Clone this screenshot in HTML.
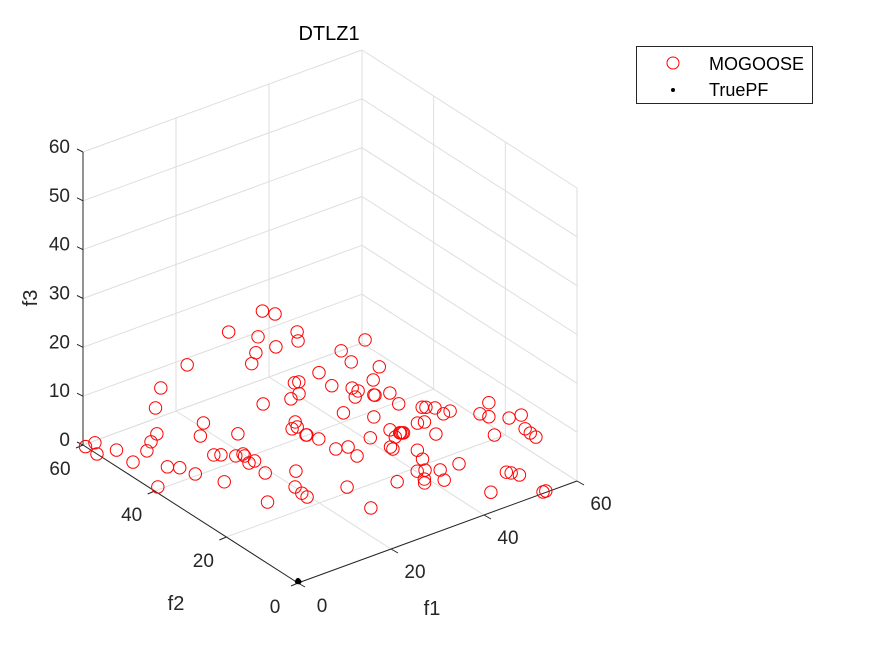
<!DOCTYPE html>
<html><head><meta charset="utf-8"><style>
body{margin:0;background:#fff;}
svg{display:block;font-family:"Liberation Sans",Arial,sans-serif;}
</style></head><body>
<svg id="chart" width="875" height="656" viewBox="0 0 875 656">
<rect width="875" height="656" fill="#fff"/>
<g id="grid"></g>
<g id="axes"></g>
<g id="marks"></g>
<text x="329" y="40" font-size="20" text-anchor="middle" fill="#000">DTLZ1</text>
<text x="432" y="615" font-size="20" text-anchor="middle" fill="#262626">f1</text>
<text x="176" y="610" font-size="20" text-anchor="middle" fill="#262626">f2</text>
<text x="0" y="0" font-size="20" text-anchor="middle" fill="#262626" transform="translate(37,298) rotate(-90)">f3</text>
<g>
<rect x="636.5" y="46.5" width="176" height="57" fill="#fff" stroke="#262626" stroke-width="1"/>
<circle cx="673" cy="63" r="6" fill="none" stroke="#f00" stroke-width="1"/>
<text x="709" y="70" font-size="18" fill="#000">MOGOOSE</text>
<circle cx="673" cy="90" r="2" fill="#000"/>
<text x="709" y="96" font-size="18" fill="#000">TruePF</text>
</g>
</svg>
<script>
const f1Vals=[36.5,37.6,27.4,30.4,36.8,35.0,30.7,26.7,23.8,14.7,31.1,44.4,38.8,37.8,40.6,45.3,14.5,9.5,25.1,33.9,34.7,32.2,30.0,38.4,40.7,40.9,39.2,42.2,42.3,44.8,43.7,34.2,37.5,46.2,46.7,47.8,47.7,49.2,52.7,56.3,53.3,55.8,58.1,21.2,18.0,23.6,12.5,10.0,7.5,2.1,0,0,3.5,3.2,6.9,8.4,9.2,15.8,16.8,18.6,20.0,19.8,18.9,20.1,19.0,11.5,1.3,34.0,32.1,33.2,32.7,32.8,33.6,23.6,20.1,19.7,19.6,13.1,55.7,55.5,55.4,58.5,50.5,51.7,50.7,45.3,46.0,46.5,44.5,40.9,33.8,35.9,35.2,41.7,41.6,44.7,43.5,40.2,41.5,39.5,38.7,43.6,42.0,47.5,35.2,27.2,26.0,45.8,52.2,52.7,53.4,53.0,53.6,46.1,46.3];
const f2Vals=[57.3,55.2,54.9,50.6,48.0,45.4,46.0,46.4,43.8,50.0,34.5,38.9,38.3,34.2,30.0,37.8,57.1,52.1,42.3,45.0,44.8,41.5,40.9,40.4,37.7,36.3,34.9,33.6,33.4,32.5,28.6,31.7,27.5,25.3,24.9,23.8,21.3,21.4,17.6,19.8,15.9,13.5,13.1,53.9,50.6,47.4,55.6,54.0,51.9,59.4,59.3,56.1,55.2,50.2,45.4,43.9,40.6,44.0,43.3,41.5,41.3,40.6,38.2,38.2,33.8,35.5,40.8,44.9,43.3,43.3,40.2,40.1,37.8,31.2,26.9,24.5,22.9,25.5,8.9,7.2,5.5,21.1,32.2,31.8,27.3,33.1,31.3,30.9,30.6,32.9,33.3,32.6,29.2,28.3,27.5,24.7,21.7,18.9,18.4,16.0,14.9,16.9,13.7,16.7,18.0,21.6,13.4,5.6,9.6,8.9,7.5,0.4,0.4,31.2,31.0];
const f3Vals=[16,16,16,16,16,16,16,16,16,16,16,16,16,16,16,8,8,8,8,8,8,8,8,8,8,8,8,8,8,8,8,8,8,8,8,8,8,8,8,8,8,8,8,0,0,0,0,0,0,0,0,0,0,0,0,0,0,0,0,0,0,0,0,0,0,0,0,0,0,0,0,0,0,0,0,0,0,0,8,8,8,0,0,0,0,0,0,0,0,0,0,0,0,0,0,0,0,0,0,0,0,0,0,0,0,0,0,0,0,0,0,0,0,0,0];
const pfF1=[0,0.3,0.1,0.2];
const pfF2=[0,0.1,0.3,0.2];
const pfF3=[0.5,0.1,0.1,0.1];
const xTicks=[0,20,40,60];
const yTicks=[0,20,40,60];
const zTicks=[0,10,20,30,40,50,60];

const O=[298,583], U=[279/60,-102/60], V=[-215/60,-138/60], W=293/60;
function P(a,b,c){return [O[0]+a*U[0]+b*V[0], O[1]+a*U[1]+b*V[1]-c*W];}
const NS="http://www.w3.org/2000/svg";
function line(g,p,q,col,w){const l=document.createElementNS(NS,'line');
l.setAttribute('x1',p[0]);l.setAttribute('y1',p[1]);l.setAttribute('x2',q[0]);l.setAttribute('y2',q[1]);
l.setAttribute('stroke',col);l.setAttribute('stroke-width',w);g.appendChild(l);return l;}
function txt(g,x,y,s,anchor){const t=document.createElementNS(NS,'text');
t.setAttribute('x',x);t.setAttribute('y',y);t.setAttribute('font-size','19');t.setAttribute('fill','#262626');
t.setAttribute('text-anchor',anchor);t.textContent=s;g.appendChild(t);return t;}
const grid=document.getElementById('grid'), axes=document.getElementById('axes'), marks=document.getElementById('marks');
const gc='#dedede';
xTicks.forEach(v=>{const l=line(grid,P(v,0,0),P(v,60,0),gc,1);

});
yTicks.forEach(v=>{const l=line(grid,P(0,v,0),P(60,v,0),gc,1);

});
xTicks.forEach(v=>{const l=line(grid,P(v,60,0),P(v,60,60),gc,1);

});
yTicks.forEach(v=>{const l=line(grid,P(60,v,0),P(60,v,60),gc,1);

});
zTicks.forEach(v=>{const l1=line(grid,P(0,60,v),P(60,60,v),gc,1);


const l2=line(grid,P(60,60,v),P(60,0,v),gc,1);

});
const ax1=line(axes,P(0,0,0),P(60,0,0),'#262626',1);


const ax2=line(axes,P(0,0,0),P(0,60,0),'#262626',1);


const ax3=line(axes,P(0,60,0),P(0,60,60),'#262626',1);


xTicks.forEach(v=>{const p=P(v,0,0);line(axes,p,[p[0]+7,p[1]+4],'#262626',1);
const t=txt(axes,p[0]+24,p[1]+29,String(v),'middle');

});
yTicks.forEach(v=>{const p=P(0,v,0);line(axes,p,[p[0]-7,p[1]+3],'#262626',1);
const t=txt(axes,p[0]-23,p[1]+30,String(v),'middle');

});
zTicks.forEach(v=>{const p=P(0,60,v);line(axes,p,[p[0]-6,p[1]-3],'#262626',1);
const t=txt(axes,p[0]-13,p[1]+1,String(v),'end');

});
f1Vals.forEach((a,i)=>{const p=P(a,f2Vals[i],f3Vals[i]);
const c=document.createElementNS(NS,'circle');
c.setAttribute('cx',p[0]);c.setAttribute('cy',p[1]);c.setAttribute('r',6.2);
c.setAttribute('fill','none');c.setAttribute('stroke','#f00');c.setAttribute('stroke-width',1);


marks.appendChild(c);});
pfF1.forEach((a,i)=>{const p=P(a,pfF2[i],pfF3[i]);
const c=document.createElementNS(NS,'circle');
c.setAttribute('cx',p[0]);c.setAttribute('cy',p[1]);c.setAttribute('r',2.5);c.setAttribute('fill','#000');


marks.appendChild(c);});
</script>
</body></html>
